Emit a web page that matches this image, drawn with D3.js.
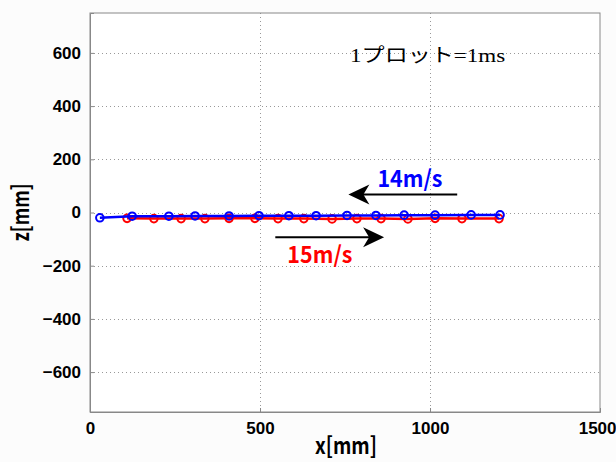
<!DOCTYPE html>
<html>
<head>
<meta charset="utf-8">
<script src="https://cdn.jsdelivr.net/npm/d3@7"></script>
<style>
  body { margin: 0; background: #fcfcfc; }
  svg { display: block; }
</style>
</head>
<body>
<div id="container"></div>
<script>
// data (mm)
let blueX = [29, 124, 232, 309, 409, 497, 585, 665, 756, 841, 924, 1015, 1121, 1206];
let blueZ = [-20, -14, -14, -13, -13, -12, -12, -12, -11, -11, -10, -10, -9, -9];
let redX = [109, 188, 268, 338, 409, 485, 553, 629, 712, 785, 856, 935, 1015, 1094, 1203];
let redZ = [-22, -23, -23, -23, -22, -22, -23, -23, -24, -23, -23, -24, -22, -23, -23];

let xTicks = [0, 500, 1000, 1500];
let zTicks = [-600, -400, -200, 0, 200, 400, 600];

let width = 616;
let height = 462;
let margin = {left: 90, right: 16, top: 13, bottom: 50};

function drawChart() {
    let svg = d3.select('#container').append('svg')
        .attr('width', width)
        .attr('height', height);

    let x = d3.scaleLinear().domain([0, 1500]).range([margin.left, width - margin.right]);
    let y = d3.scaleLinear().domain([-750, 750]).range([height - margin.bottom, margin.top]);

    // plot area
    svg.append('rect')
        .attr('x', x(0)).attr('y', y(750))
        .attr('width', x(1500) - x(0)).attr('height', y(-750) - y(750))
        .attr('fill', '#fff');

    // grid
    let grid = svg.append('g').attr('stroke', '#999').attr('stroke-width', 1)
        .attr('stroke-dasharray', '1,3');
    grid.selectAll('line.gx').data(xTicks.slice(1, -1)).enter().append('line')
        .attr('x1', d => Math.round(x(d)) + 0.5).attr('x2', d => Math.round(x(d)) + 0.5)
        .attr('y1', y(750)).attr('y2', y(-750));
    grid.selectAll('line.gy').data(zTicks).enter().append('line')
        .attr('x1', x(0)).attr('x2', x(1500))
        .attr('y1', d => Math.round(y(d)) + 0.5).attr('y2', d => Math.round(y(d)) + 0.5);

    // axes
    let fmt = d3.format('d');
    let xAxis = svg.append('g')
        .attr('transform', 'translate(0,' + y(-750) + ')')
        .call(d3.axisBottom(x).tickValues(xTicks).tickFormat(fmt).tickSize(-4).tickPadding(10));
    let yAxis = svg.append('g')
        .attr('transform', 'translate(' + x(0) + ',0)')
        .call(d3.axisLeft(y).tickValues(zTicks).tickFormat(fmt).tickSize(-4).tickPadding(9));
    [xAxis, yAxis].forEach(function(a) {
        a.select('.domain').attr('stroke', '#888');
        a.selectAll('.tick line').attr('stroke', '#888');
        a.selectAll('.tick text')
            .attr('fill', '#000')
            .style('font-family', 'Liberation Sans, Arial, sans-serif')
            .style('font-size', '17px')
            .style('font-weight', 'bold');
    });
    // last x label sits at the window edge
    xAxis.selectAll('.tick text').filter(d => d === 1500).attr('text-anchor', 'end').attr('dx', 16);
    // box top/right
    svg.append('rect')
        .attr('x', x(0)).attr('y', y(750))
        .attr('width', x(1500) - x(0)).attr('height', y(-750) - y(750))
        .attr('fill', 'none').attr('stroke', '#888');

    // series
    let line = d3.line().x(d => x(d[0])).y(d => y(d[1]));
    let series = [
        {xs: redX, zs: redZ, color: '#ff0000'},
        {xs: blueX, zs: blueZ, color: '#0000ff'}
    ];
    series.forEach(function(s) {
        let pts = s.xs.map((v, i) => [v, s.zs[i]]);
        svg.append('path').datum(pts)
            .attr('d', line)
            .attr('fill', 'none')
            .attr('stroke', s.color)
            .attr('stroke-width', 2.5);
        svg.append('g').selectAll('circle').data(pts).enter().append('circle')
            .attr('cx', d => x(d[0])).attr('cy', d => y(d[1]))
            .attr('r', 3.8)
            .attr('fill', 'none')
            .attr('stroke', s.color)
            .attr('stroke-width', 2);
    });

    // arrows
    function arrow(x1, x2, zv) {
        let yy = y(zv);
        let dir = x2 > x1 ? 1 : -1;
        svg.append('line')
            .attr('x1', x(x1)).attr('x2', x(x2) - dir * 10)
            .attr('y1', yy).attr('y2', yy)
            .attr('stroke', '#000').attr('stroke-width', 2);
        let tx = x(x2);
        svg.append('path')
            .attr('d', 'M' + tx + ',' + yy +
                ' L' + (tx - dir * 21) + ',' + (yy - 10) +
                ' L' + (tx - dir * 15) + ',' + yy +
                ' L' + (tx - dir * 21) + ',' + (yy + 10) + 'Z')
            .attr('fill', '#000');
    }
    arrow(1080, 760, 68);
    arrow(545, 865, -93);

    // speed labels
    let labels = [
        {t: '14m/s', xv: 941, zv: 96, color: '#0000ff'},
        {t: '15m/s', xv: 676, zv: -190, color: '#ff0000'}
    ];
    labels.forEach(function(l) {
        svg.append('text')
            .attr('x', x(l.xv)).attr('y', y(l.zv))
            .attr('text-anchor', 'middle')
            .attr('fill', l.color)
            .attr('textLength', 65).attr('lengthAdjust', 'spacingAndGlyphs')
            .style('font-family', 'Noto Sans CJK JP, sans-serif')
            .style('font-size', '23px')
            .style('font-weight', 'bold')
            .text(l.t);
    });

    // note
    svg.append('text')
        .attr('x', x(765)).attr('y', y(565))
        .attr('fill', '#000')
        .attr('textLength', 155).attr('lengthAdjust', 'spacingAndGlyphs')
        .style('font-family', 'Liberation Serif, Noto Sans CJK JP, serif')
        .style('font-size', '19px')
        .text('1プロット=1ms');

    // axis labels
    svg.append('text')
        .attr('x', 346).attr('y', 454)
        .attr('text-anchor', 'middle')
        .attr('textLength', 62).attr('lengthAdjust', 'spacingAndGlyphs')
        .style('font-family', 'Noto Sans CJK JP, sans-serif')
        .style('font-size', '23px')
        .style('font-weight', 'bold')
        .text('x[mm]');
    svg.append('text')
        .attr('transform', 'translate(29,' + y(0) + ') rotate(-90)')
        .attr('text-anchor', 'middle')
        .attr('textLength', 58).attr('lengthAdjust', 'spacingAndGlyphs')
        .style('font-family', 'Noto Sans CJK JP, sans-serif')
        .style('font-size', '23px')
        .style('font-weight', 'bold')
        .text('z[mm]');
}

document.addEventListener('DOMContentLoaded', drawChart);
</script>
</body>
</html>
